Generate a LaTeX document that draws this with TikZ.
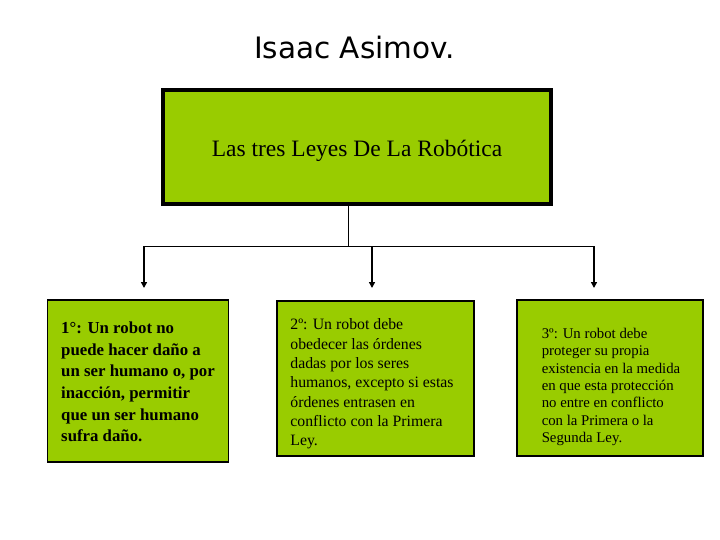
\documentclass[tikz,border=0pt]{standalone}
\usepackage{fontspec}
\setmainfont{Liberation Serif}
\newfontfamily\titlefont{DejaVu Sans}
\definecolor{LawGreen}{HTML}{99CC00}
\usetikzlibrary{arrows.meta, positioning, calc}

\begin{document}
\begin{tikzpicture}[x=1pt, y=-1pt,
  mainbox/.style={draw=black, line width=4pt, fill=LawGreen, minimum width=388pt, minimum height=114pt, inner sep=0pt, text height=19pt, text depth=0pt, font=\fontsize{23.5}{28}\selectfont},
  lawbox/.style={draw=black, line width=1.2pt, fill=LawGreen, inner sep=0pt},
  lawtext/.style={align=left, inner sep=0pt},
  law_arrow/.style={line width=2pt, -{Triangle[width=6pt, length=6pt]}},
]
  \useasboundingbox (0,0) rectangle (720,540);
  \node[font=\titlefont\fontsize{29.5}{34}\selectfont] (title) at (354.5,48) {Isaac Asimov.};
  \node[mainbox] (leyes) at (357,147) {Las tres Leyes De La Robótica};
  % the three laws
  \node[lawbox, minimum width=181pt, minimum height=162pt] (ley1box) at (138.3,381) {};
  \node[lawbox, minimum width=197pt, minimum height=155pt] (ley2box) at (375.5,378.5) {};
  \node[lawbox, minimum width=186pt, minimum height=156pt] (ley3box) at (610,378) {};
  \node[lawtext, font=\bfseries\fontsize{16.8}{21.6}\selectfont] (ley1) at (138,382)
    {1°: Un robot no\\puede hacer daño a\\un ser humano o, por\\inacción, permitir\\que un ser humano\\sufra daño.};
  \node[lawtext, font=\fontsize{15.8}{19.3}\selectfont] (ley2) at (372,384)
    {2º: Un robot debe\\obedecer las órdenes\\dadas por los seres\\humanos, excepto si estas\\órdenes entrasen en\\conflicto con la Primera\\Ley.};
  \node[lawtext, font=\fontsize{14.8}{17.4}\selectfont] (ley3) at (611,387)
    {3º: Un robot debe\\proteger su propia\\existencia en la medida\\en que esta protección\\no entre en conflicto\\con la Primera o la\\Segunda Ley.};
  % branch lines
  \coordinate (split) at (348,246);
  \coordinate (t1) at (144,288);
  \coordinate (t2) at (372,288);
  \coordinate (t3) at (594,288);
  \draw[line width=1pt] (leyes.south -| split) -- (split);
  \draw[line width=1pt] (t1 |- split) -- (t3 |- split);
  \foreach \i in {1,2,3}
    \draw[law_arrow] (t\i |- split) -- (t\i);
\end{tikzpicture}
\end{document}
